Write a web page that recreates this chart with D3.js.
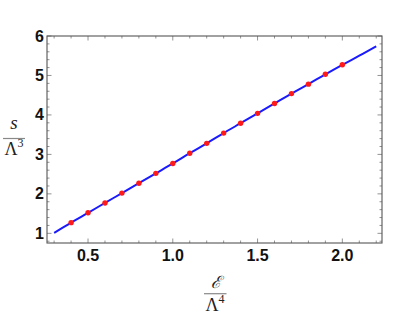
<!DOCTYPE html>
<html><head><meta charset="utf-8">
<script src="https://cdn.jsdelivr.net/npm/d3@7"></script>
<style>body{margin:0;background:#fff}svg{display:block}</style>
</head><body>
<svg id="c" width="395" height="315"></svg>
<script>
// data
const pointX = [0.4,0.5,0.6,0.7,0.8,0.9,1.0,1.1,1.2,1.3,1.4,1.5,1.6,1.7,1.8,1.9,2.0];
const pointY = [1.27,1.52,1.77,2.02,2.27,2.52,2.77,3.03,3.28,3.54,3.79,4.04,4.29,4.54,4.78,5.03,5.27];
const lineX = [0.3,0.4,0.5,0.6,0.7,0.8,0.9,1.0,1.1,1.2,1.3,1.4,1.5,1.6,1.7,1.8,1.9,2.0,2.1,2.2];
const lineY = [1.01,1.27,1.52,1.77,2.02,2.27,2.52,2.77,3.03,3.28,3.54,3.79,4.04,4.29,4.54,4.78,5.03,5.27,5.50,5.74];
const xTicks = [0.5,1.0,1.5,2.0];
const xTickLabels = ["0.5","1.0","1.5","2.0"];
const yTicks = [1,2,3,4,5,6];
const yTickLabels = ["1","2","3","4","5","6"];

const svg = d3.select("#c");
const L=47,R=382,T=36,B=243;
const x = d3.scaleLinear().domain([0.258,2.234]).range([L,R]);
const y = d3.scaleLinear().domain([0.755,6]).range([B,T]);

const frameCol="#555";
const xMinor = d3.range(3,23).map(d=>d/10).filter(v=>!xTicks.some(t=>Math.abs(t-v)<1e-6));
const yMinor = d3.range(4,31).map(d=>d/5).filter(v=>v>=0.755 && v<=6 && !yTicks.some(t=>Math.abs(t-v)<1e-6));

const g = svg.append("g");
function xt(vals,len){
  vals.forEach(v=>{
    g.append("line").attr("x1",x(v)).attr("x2",x(v)).attr("y1",B).attr("y2",B-len).attr("stroke","#777").attr("stroke-width",0.8);
    g.append("line").attr("x1",x(v)).attr("x2",x(v)).attr("y1",T).attr("y2",T+len).attr("stroke","#777").attr("stroke-width",0.8);
  });
}
function yt(vals,len){
  vals.forEach(v=>{
    g.append("line").attr("y1",y(v)).attr("y2",y(v)).attr("x1",L).attr("x2",L+len).attr("stroke","#777").attr("stroke-width",0.8);
    g.append("line").attr("y1",y(v)).attr("y2",y(v)).attr("x1",R).attr("x2",R-len).attr("stroke","#777").attr("stroke-width",0.8);
  });
}
xt(xTicks,4.5); xt(xMinor,2.5); yt(yTicks,4.5); yt(yMinor,2.5);

g.append("rect").attr("x",L).attr("y",T).attr("width",R-L).attr("height",B-T)
  .attr("fill","none").attr("stroke",frameCol).attr("stroke-width",1.1);

const sans = "Liberation Sans, Arial, sans-serif";
xTicks.forEach((v,i)=>{
  svg.append("text").attr("x",x(v)).attr("y",261).attr("text-anchor","middle")
    .attr("font-family",sans).attr("font-weight","bold").attr("font-size",16)
    .attr("fill","#111").text(xTickLabels[i]);
});
yTicks.forEach((v,i)=>{
  svg.append("text").attr("x",44).attr("y",y(v)+5.5).attr("text-anchor","end")
    .attr("font-family",sans).attr("font-weight","bold").attr("font-size",16)
    .attr("fill","#111").text(yTickLabels[i]);
});

const pts = lineX.map((v,i)=>[v,lineY[i]]);
svg.append("path").datum(pts)
  .attr("d",d3.line().x(d=>x(d[0])).y(d=>y(d[1])).curve(d3.curveMonotoneX))
  .attr("fill","none").attr("stroke","#1a1aff").attr("stroke-width",2);

svg.selectAll("circle.p").data(pointX.map((v,i)=>[v,pointY[i]])).enter().append("circle")
  .attr("cx",d=>x(d[0])).attr("cy",d=>y(d[1])).attr("r",2.7).attr("fill","#ff1a1a");

const serif = "Liberation Serif, DejaVu Serif, serif";
svg.append("text").attr("x",14).attr("y",129).attr("text-anchor","middle").attr("font-family",serif)
  .attr("font-style","italic").attr("font-size",19).attr("fill","#222").text("s");
svg.append("line").attr("x1",3).attr("x2",25).attr("y1",138.5).attr("y2",138.5).attr("stroke","#888").attr("stroke-width",1.2);
const yl = svg.append("text").attr("x",14).attr("y",155).attr("text-anchor","middle").attr("font-family",serif)
  .attr("font-size",18).attr("fill","#222");
yl.append("tspan").text("Λ");
yl.append("tspan").attr("font-size",12).attr("dy",-8).text("3");
svg.append("text").attr("x",216).attr("y",288).attr("text-anchor","middle").attr("font-family","DejaVu Serif, serif")
  .attr("font-style","italic").attr("font-size",17).attr("fill","#222").text("ℰ");
svg.append("line").attr("x1",204).attr("x2",226.5).attr("y1",293.7).attr("y2",293.7).attr("stroke","#888").attr("stroke-width",1.2);
const xl = svg.append("text").attr("x",215).attr("y",311).attr("text-anchor","middle").attr("font-family",serif)
  .attr("font-size",18).attr("fill","#222");
xl.append("tspan").text("Λ");
xl.append("tspan").attr("font-size",12).attr("dy",-8).text("4");
</script>
</body></html>
